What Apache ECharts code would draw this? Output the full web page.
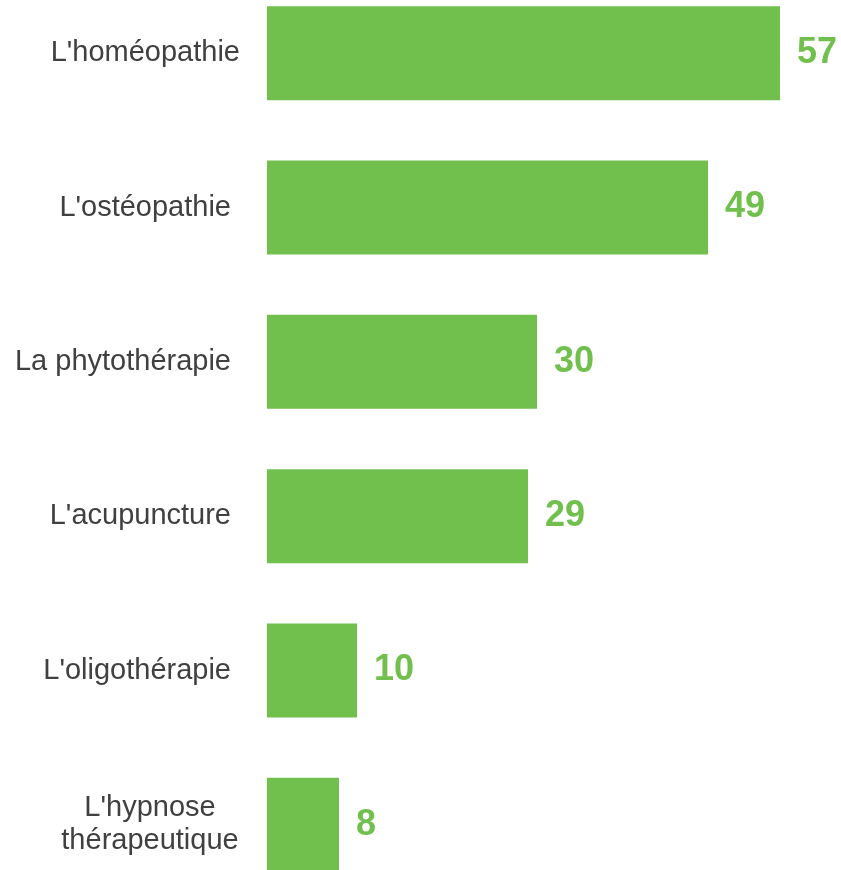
<!DOCTYPE html>
<html>
<head>
<meta charset="utf-8">
<script src="https://cdn.jsdelivr.net/npm/echarts@6/dist/echarts.min.js"></script>
<style>
html,body{margin:0;padding:0;background:#fff;overflow:hidden;width:841px;height:870px;}
#chart{position:absolute;left:0;top:-24px;width:841px;height:926px;}
</style>
</head>
<body>
<div id="chart"></div>
<script>
const categories = ["L'homéopathie", "L'ostéopathie", "La phytothérapie", "L'acupuncture", "L'oligothérapie", "L'hypnose\nthérapeutique"];
const values = [57, 49, 30, 29, 10, 8];

const green = '#71BF4C';
const font = 'Liberation Sans, Arial, sans-serif';
const chart = echarts.init(document.getElementById('chart'));
chart.setOption({
  animation: false,
  grid: { left: 267, top: 0, width: 540, bottom: 0, containLabel: false },
  xAxis: { type: 'value', min: 0, max: 60, show: false },
  yAxis: {
    type: 'category',
    inverse: true,
    data: categories,
    axisLine: { show: false },
    axisTick: { show: false },
    splitLine: { show: false },
    axisLabel: {
      margin: 27,
      fontFamily: font,
      fontSize: 29,
      color: '#404040',
      align: 'right',
      formatter: function (v, i) {
        if (i === 0) return '{n|' + v + '}';
        if (v.indexOf('\n') >= 0) return v.split('\n').map(s => '{c|' + s + '}').join('\n');
        return '{p|' + v + '}';
      },
      rich: {
        n: { fontSize: 29, color: '#404040', fontFamily: font },
        p: { fontSize: 29, color: '#404040', fontFamily: font, padding: [0, 9, 0, 0] },
        c: { fontSize: 29, color: '#404040', fontFamily: font, width: 180, align: 'center', lineHeight: 33 }
      }
    }
  },
  series: [{
    type: 'bar',
    data: values,
    barWidth: 94,
    itemStyle: { color: green },
    label: {
      show: true,
      position: 'right',
      distance: 17,
      fontFamily: font,
      fontSize: 36,
      fontWeight: 'bold',
      color: green
    }
  }]
});
</script>
</body>
</html>
